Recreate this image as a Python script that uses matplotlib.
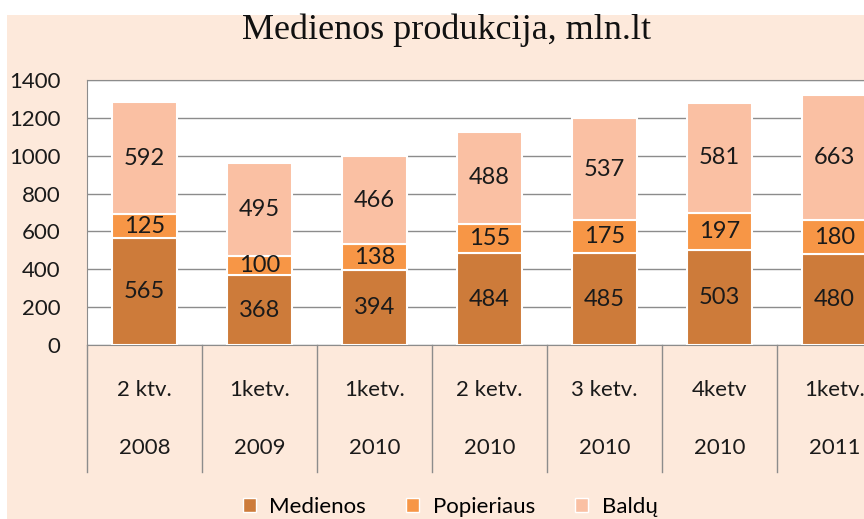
import matplotlib.pyplot as plt
import matplotlib.transforms as mtransforms
from matplotlib.patches import Rectangle, Patch

quarters = ["2 ktv.", "1ketv.", "1ketv.", "2 ketv.", "3 ketv.", "4ketv", "1ketv."]
years = ["2008", "2009", "2010", "2010", "2010", "2010", "2011"]
medienos = [565, 368, 394, 484, 485, 503, 480]
popieriaus = [125, 100, 138, 155, 175, 197, 180]
baldu = [592, 495, 466, 488, 537, 581, 663]

c_med = "#CD7B3A"
c_pop = "#F79646"
c_bal = "#FAC0A3"
bg = "#FDE9DB"
txt = "#1A1A1A"

plt.rcParams['font.family'] = ['Lato', 'DejaVu Sans']

fig = plt.figure(figsize=(8.64, 5.19), dpi=100)
fig.patch.set_facecolor("white")
# peach chart area (the top strip stays white)
fig.patches.append(Rectangle((7 / 864, 0), 1, (519 - 15) / 519, transform=fig.transFigure,
                             facecolor=bg, edgecolor="none", zorder=-10))

ax = fig.add_axes([87 / 864, (519 - 345) / 519, 805 / 864, 265 / 519])
ax.set_facecolor("white")

x = list(range(len(quarters)))
w = 0.56
bottom2 = [a + b for a, b in zip(medienos, popieriaus)]
b1 = ax.bar(x, medienos, w, color=c_med, edgecolor="white", linewidth=1.5, zorder=3)
b2 = ax.bar(x, popieriaus, w, bottom=medienos, color=c_pop, edgecolor="white", linewidth=1.5, zorder=3)
b3 = ax.bar(x, baldu, w, bottom=bottom2, color=c_bal, edgecolor="white", linewidth=1.5, zorder=3)
for bars in (b1, b2, b3):
    ax.bar_label(bars, label_type="center", fontsize=17, color=txt)

ax.set_ylim(0, 1400)
ax.set_xlim(-0.5, len(quarters) - 0.5)
ax.set_yticks(range(0, 1401, 200))
ax.yaxis.grid(True, color="#8C8C8C", linewidth=1)
ax.set_axisbelow(True)
ax.tick_params(axis="y", length=0, pad=19, labelsize=16, labelcolor=txt)
ax.set_xticks([])
for s in ["left", "top", "bottom"]:
    ax.spines[s].set_color("#8C8C8C")
ax.spines["right"].set_visible(False)

# two-level category labels with separators
trans = mtransforms.blended_transform_factory(ax.transData, ax.transAxes)
for i in x:
    ax.text(i, -0.17, quarters[i], transform=trans, ha="center", va="center", fontsize=16, color=txt)
    ax.text(i, -0.39, years[i], transform=trans, ha="center", va="center", fontsize=16, color=txt)
for i in range(len(quarters) + 1):
    ax.plot([i - 0.5, i - 0.5], [0, -0.48], transform=trans, color="#8C8C8C", linewidth=1, clip_on=False)

fig.text(447 / 864, (519 - 30) / 519, "Medienos produkcija, mln.lt", ha="center", va="center",
         fontsize=26, family="Liberation Serif", color="#111111")

handles = [Patch(facecolor=c_med, edgecolor="white"), Patch(facecolor=c_pop, edgecolor="white"),
           Patch(facecolor=c_bal, edgecolor="white")]
fig.legend(handles, ["Medienos", "Popieriaus", "Baldų"], loc="center", ncol=3,
           bbox_to_anchor=(450 / 864, (519 - 507) / 519), frameon=False, fontsize=16,
           handlelength=0.6, handleheight=0.6, columnspacing=1.8, handletextpad=0.6)

fig.savefig("out.png", dpi=100, facecolor=fig.get_facecolor())
